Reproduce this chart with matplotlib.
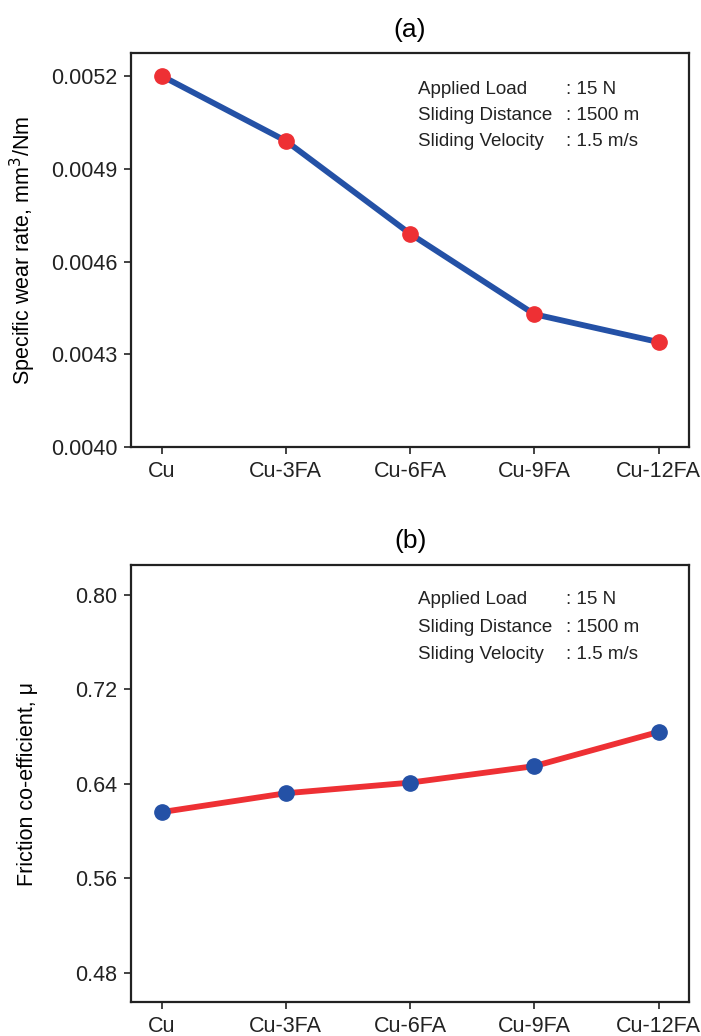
import matplotlib
matplotlib.use("Agg")
import matplotlib.pyplot as plt

plt.rcParams["font.family"] = ["Liberation Sans", "DejaVu Sans"]

# data
samples = ["Cu", "Cu-3FA", "Cu-6FA", "Cu-9FA", "Cu-12FA"]
wear_rate = [0.00520, 0.00499, 0.00469, 0.00443, 0.00434]
friction = [0.616, 0.632, 0.641, 0.655, 0.684]

wear_ticks = [0.0040, 0.0043, 0.0046, 0.0049, 0.0052]
wear_tick_labels = ["0.0040", "0.0043", "0.0046", "0.0049", "0.0052"]
fric_ticks = [0.48, 0.56, 0.64, 0.72, 0.80]
fric_tick_labels = ["0.48", "0.56", "0.64", "0.72", "0.80"]

cond_names = ["Applied Load", "Sliding Distance", "Sliding Velocity"]
cond_values = [": 15 N", ": 1500 m", ": 1.5 m/s"]

BLUE = "#2451a6"
RED = "#ee3034"

fig = plt.figure(figsize=(7.01, 10.36), dpi=100)
ax_a = fig.add_axes([0.187, 0.5682, 0.796, 0.3804])
ax_b = fig.add_axes([0.187, 0.0328, 0.796, 0.4218])

x = list(range(len(samples)))


def style_axes(ax):
    for sp in ax.spines.values():
        sp.set_linewidth(1.6)
        sp.set_color("#222222")
    ax.tick_params(direction="out", length=5, width=1.2, labelsize=15.5,
                   colors="#222222", pad=5)
    ax.set_xticks(x)
    ax.set_xticklabels(samples)
    ax.set_xlim(-0.245, 4.245)


def add_conditions(ax, rows_y):
    for name, val, yy in zip(cond_names, cond_values, rows_y):
        ax.text(0.515, yy, name, transform=ax.transAxes, fontsize=13.5,
                va="center", ha="left", color="#222222")
        ax.text(0.780, yy, val, transform=ax.transAxes, fontsize=13.5,
                va="center", ha="left", color="#222222")


# (a) specific wear rate
ax_a.plot(x, wear_rate, color=BLUE, lw=4.2, marker="o", ms=11,
          mfc=RED, mec=RED, zorder=3)
style_axes(ax_a)
ax_a.set_ylim(0.0040, 0.005273)
ax_a.set_yticks(wear_ticks)
ax_a.set_yticklabels(wear_tick_labels)
ax_a.set_ylabel("Specific wear rate, mm$^3$/Nm", fontsize=15.5)
ax_a.yaxis.set_label_coords(-0.166, 0.5)
ax_a.set_title("(a)", fontsize=19, pad=12)
add_conditions(ax_a, [0.909, 0.841, 0.776])

# (b) friction coefficient
ax_b.plot(x, friction, color=RED, lw=4.2, marker="o", ms=11,
          mfc=BLUE, mec=BLUE, zorder=3)
style_axes(ax_b)
ax_b.set_ylim(0.455, 0.8255)
ax_b.set_yticks(fric_ticks)
ax_b.set_yticklabels(fric_tick_labels)
ax_b.set_ylabel("Friction co-efficient, \u03bc", fontsize=15.5)
ax_b.yaxis.set_label_coords(-0.166, 0.5)
ax_b.set_title("(b)", fontsize=19, pad=12)
add_conditions(ax_b, [0.920, 0.858, 0.796])

fig.savefig("out.png", dpi=100)
